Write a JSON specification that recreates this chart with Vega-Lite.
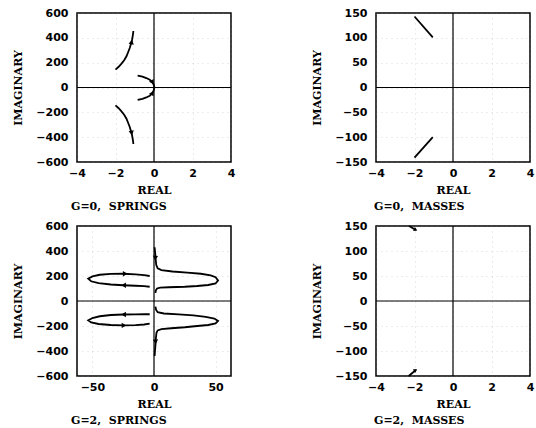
{
  "$schema": "https://vega.github.io/schema/vega-lite/v6.json",
  "padding": {"left": 12, "top": 6, "right": 0, "bottom": 0},
  "background": "white",
  "columns": 2,
  "spacing": {"row": 6, "column": 75},
  "datasets": {
    "zero": [{"v": 0}],
    "s0": [
      {"b": "A", "i": 0, "re": -2.0, "im": 144}, {"b": "A", "i": 1, "re": -1.85, "im": 165}, {"b": "A", "i": 2, "re": -1.7, "im": 190}, {"b": "A", "i": 3, "re": -1.55, "im": 220}, {"b": "A", "i": 4, "re": -1.43, "im": 251}, {"b": "A", "i": 5, "re": -1.33, "im": 290}, {"b": "A", "i": 6, "re": -1.26, "im": 318}, {"b": "A", "i": 7, "re": -1.19, "im": 355}, {"b": "A", "i": 8, "re": -1.14, "im": 385}, {"b": "A", "i": 9, "re": -1.1, "im": 420}, {"b": "A", "i": 10, "re": -1.07, "im": 455},
      {"b": "B", "i": 0, "re": -2.0, "im": -144}, {"b": "B", "i": 1, "re": -1.85, "im": -165}, {"b": "B", "i": 2, "re": -1.7, "im": -190}, {"b": "B", "i": 3, "re": -1.55, "im": -220}, {"b": "B", "i": 4, "re": -1.43, "im": -251}, {"b": "B", "i": 5, "re": -1.33, "im": -290}, {"b": "B", "i": 6, "re": -1.26, "im": -318}, {"b": "B", "i": 7, "re": -1.19, "im": -355}, {"b": "B", "i": 8, "re": -1.14, "im": -385}, {"b": "B", "i": 9, "re": -1.1, "im": -420}, {"b": "B", "i": 10, "re": -1.07, "im": -455},
      {"b": "C", "i": 0, "re": -0.85, "im": 95}, {"b": "C", "i": 1, "re": -0.6, "im": 87}, {"b": "C", "i": 2, "re": -0.4, "im": 76}, {"b": "C", "i": 3, "re": -0.22, "im": 62}, {"b": "C", "i": 4, "re": -0.1, "im": 45}, {"b": "C", "i": 5, "re": -0.02, "im": 24}, {"b": "C", "i": 6, "re": 0.02, "im": 2},
      {"b": "D", "i": 0, "re": -0.85, "im": -100}, {"b": "D", "i": 1, "re": -0.6, "im": -91}, {"b": "D", "i": 2, "re": -0.4, "im": -80}, {"b": "D", "i": 3, "re": -0.22, "im": -66}, {"b": "D", "i": 4, "re": -0.1, "im": -48}, {"b": "D", "i": 5, "re": -0.02, "im": -26}, {"b": "D", "i": 6, "re": 0.02, "im": -2}
    ],
    "a0": [
      {"re": -1.17, "im": 360, "dir": 10}, {"re": -1.17, "im": -360, "dir": 170},
      {"re": -0.1, "im": 47, "dir": 150}, {"re": -0.1, "im": -50, "dir": 30}
    ],
    "m0": [
      {"b": "E", "i": 0, "re": -2.0, "im": 143}, {"b": "E", "i": 1, "re": -1.05, "im": 101},
      {"b": "F", "i": 0, "re": -2.0, "im": -141}, {"b": "F", "i": 1, "re": -1.05, "im": -100}
    ],
    "s2": [
      {"b": "UL", "i": 0, "re": -3.5, "im": 200}, {"b": "UL", "i": 1, "re": -8, "im": 207}, {"b": "UL", "i": 2, "re": -15, "im": 213}, {"b": "UL", "i": 3, "re": -25, "im": 218}, {"b": "UL", "i": 4, "re": -35, "im": 217}, {"b": "UL", "i": 5, "re": -44, "im": 210}, {"b": "UL", "i": 6, "re": -50, "im": 197}, {"b": "UL", "i": 7, "re": -53.4, "im": 178}, {"b": "UL", "i": 8, "re": -51, "im": 158}, {"b": "UL", "i": 9, "re": -45, "im": 143}, {"b": "UL", "i": 10, "re": -35, "im": 132}, {"b": "UL", "i": 11, "re": -25, "im": 126}, {"b": "UL", "i": 12, "re": -15, "im": 122}, {"b": "UL", "i": 13, "re": -8, "im": 119}, {"b": "UL", "i": 14, "re": -3.5, "im": 114},
      {"b": "LL", "i": 0, "re": -3.5, "im": -106}, {"b": "LL", "i": 1, "re": -8, "im": -106}, {"b": "LL", "i": 2, "re": -15, "im": -107}, {"b": "LL", "i": 3, "re": -25, "im": -108}, {"b": "LL", "i": 4, "re": -35, "im": -112}, {"b": "LL", "i": 5, "re": -44, "im": -122}, {"b": "LL", "i": 6, "re": -50, "im": -136}, {"b": "LL", "i": 7, "re": -53.4, "im": -155}, {"b": "LL", "i": 8, "re": -51, "im": -172}, {"b": "LL", "i": 9, "re": -45, "im": -184}, {"b": "LL", "i": 10, "re": -35, "im": -192}, {"b": "LL", "i": 11, "re": -25, "im": -195}, {"b": "LL", "i": 12, "re": -15, "im": -193}, {"b": "LL", "i": 13, "re": -8, "im": -188}, {"b": "LL", "i": 14, "re": -3.5, "im": -181},
      {"b": "UR", "i": 0, "re": 0.5, "im": 430}, {"b": "UR", "i": 1, "re": 1.0, "im": 380}, {"b": "UR", "i": 2, "re": 1.4, "im": 330}, {"b": "UR", "i": 3, "re": 1.8, "im": 290}, {"b": "UR", "i": 4, "re": 3, "im": 262}, {"b": "UR", "i": 5, "re": 6, "im": 247}, {"b": "UR", "i": 6, "re": 15, "im": 236}, {"b": "UR", "i": 7, "re": 27, "im": 227}, {"b": "UR", "i": 8, "re": 38, "im": 218}, {"b": "UR", "i": 9, "re": 46, "im": 205}, {"b": "UR", "i": 10, "re": 50, "im": 190}, {"b": "UR", "i": 11, "re": 52, "im": 165}, {"b": "UR", "i": 12, "re": 50, "im": 140}, {"b": "UR", "i": 13, "re": 44, "im": 128}, {"b": "UR", "i": 14, "re": 35, "im": 120}, {"b": "UR", "i": 15, "re": 25, "im": 114}, {"b": "UR", "i": 16, "re": 12, "im": 110}, {"b": "UR", "i": 17, "re": 5, "im": 107}, {"b": "UR", "i": 18, "re": 2.5, "im": 100}, {"b": "UR", "i": 19, "re": 1.5, "im": 85}, {"b": "UR", "i": 20, "re": 1.2, "im": 65},
      {"b": "LR", "i": 0, "re": 1.2, "im": -45}, {"b": "LR", "i": 1, "re": 1.6, "im": -70}, {"b": "LR", "i": 2, "re": 3, "im": -90}, {"b": "LR", "i": 3, "re": 8, "im": -100}, {"b": "LR", "i": 4, "re": 20, "im": -107}, {"b": "LR", "i": 5, "re": 32, "im": -115}, {"b": "LR", "i": 6, "re": 42, "im": -127}, {"b": "LR", "i": 7, "re": 49, "im": -140}, {"b": "LR", "i": 8, "re": 52, "im": -160}, {"b": "LR", "i": 9, "re": 50, "im": -180}, {"b": "LR", "i": 10, "re": 44, "im": -192}, {"b": "LR", "i": 11, "re": 35, "im": -200}, {"b": "LR", "i": 12, "re": 25, "im": -210}, {"b": "LR", "i": 13, "re": 14, "im": -218}, {"b": "LR", "i": 14, "re": 6, "im": -225}, {"b": "LR", "i": 15, "re": 3, "im": -235}, {"b": "LR", "i": 16, "re": 2, "im": -255}, {"b": "LR", "i": 17, "re": 1.5, "im": -300}, {"b": "LR", "i": 18, "re": 1.2, "im": -350}, {"b": "LR", "i": 19, "re": 0.8, "im": -400}, {"b": "LR", "i": 20, "re": 0.5, "im": -440}
    ],
    "a2": [
      {"re": -24, "im": 218, "dir": 90}, {"re": -24, "im": 126, "dir": 270},
      {"re": -24, "im": -108, "dir": 270}, {"re": -25, "im": -195, "dir": 90},
      {"re": 1.1, "im": 350, "dir": 185}, {"re": 1.3, "im": -320, "dir": 175}
    ],
    "m2": [
      {"b": "G", "i": 0, "re": -2.28, "im": 150}, {"b": "G", "i": 1, "re": -1.93, "im": 142},
      {"b": "H", "i": 0, "re": -2.3, "im": -150}, {"b": "H", "i": 1, "re": -1.93, "im": -138}
    ],
    "am2": [
      {"re": -1.97, "im": 143, "dir": 115}, {"re": -1.97, "im": -139, "dir": 60}
    ]
  },
  "concat": [
    {
      "width": 154, "height": 149,
      "title": {"text": "G=0,\u00a0 SPRINGS", "dx": -6},
      "layer": [
        {
          "data": {"name": "s0"},
          "mark": {"type": "line", "color": "black", "strokeWidth": 1.8},
          "encoding": {
            "x": {"field": "re", "type": "quantitative", "scale": {"domain": [-4, 4], "nice": false}, "axis": {"title": "REAL", "tickCount": 5}},
            "y": {"field": "im", "type": "quantitative", "scale": {"domain": [-600, 600], "nice": false}, "axis": {"title": "IMAGINARY", "tickCount": 7}},
            "detail": {"field": "b"},
            "order": {"field": "i"}
          }
        },
        {"data": {"name": "zero"}, "mark": {"type": "rule", "color": "black", "strokeWidth": 1.2}, "encoding": {"x": {"field": "v", "type": "quantitative"}}},
        {"data": {"name": "zero"}, "mark": {"type": "rule", "color": "black", "strokeWidth": 1.2}, "encoding": {"y": {"field": "v", "type": "quantitative"}}},
        {
          "data": {"name": "a0"},
          "mark": {"type": "point", "shape": "triangle", "filled": true, "color": "black", "size": 28, "opacity": 1},
          "encoding": {
            "x": {"field": "re", "type": "quantitative"},
            "y": {"field": "im", "type": "quantitative"},
            "angle": {"field": "dir", "type": "quantitative", "scale": null}
          }
        }
      ]
    },
    {
      "width": 154, "height": 149,
      "title": {"text": "G=0,\u00a0 MASSES", "dx": -2},
      "layer": [
        {
          "data": {"name": "m0"},
          "mark": {"type": "line", "color": "black", "strokeWidth": 1.8},
          "encoding": {
            "x": {"field": "re", "type": "quantitative", "scale": {"domain": [-4, 4], "nice": false}, "axis": {"title": "REAL", "tickCount": 5}},
            "y": {"field": "im", "type": "quantitative", "scale": {"domain": [-150, 150], "nice": false}, "axis": {"title": "IMAGINARY", "tickCount": 7}},
            "detail": {"field": "b"},
            "order": {"field": "i"}
          }
        },
        {"data": {"name": "zero"}, "mark": {"type": "rule", "color": "black", "strokeWidth": 1.2}, "encoding": {"x": {"field": "v", "type": "quantitative"}}},
        {"data": {"name": "zero"}, "mark": {"type": "rule", "color": "black", "strokeWidth": 1.2}, "encoding": {"y": {"field": "v", "type": "quantitative"}}}
      ]
    },
    {
      "width": 154, "height": 150,
      "title": {"text": "G=2,\u00a0 SPRINGS", "dx": -6},
      "layer": [
        {
          "data": {"name": "s2"},
          "mark": {"type": "line", "color": "black", "strokeWidth": 1.8},
          "encoding": {
            "x": {"field": "re", "type": "quantitative", "scale": {"domain": [-62.5, 62.5], "nice": false}, "axis": {"title": "REAL", "tickCount": 3}},
            "y": {"field": "im", "type": "quantitative", "scale": {"domain": [-600, 600], "nice": false}, "axis": {"title": "IMAGINARY", "tickCount": 7}},
            "detail": {"field": "b"},
            "order": {"field": "i"}
          }
        },
        {"data": {"name": "zero"}, "mark": {"type": "rule", "color": "black", "strokeWidth": 1.2}, "encoding": {"x": {"field": "v", "type": "quantitative"}}},
        {"data": {"name": "zero"}, "mark": {"type": "rule", "color": "black", "strokeWidth": 1.2}, "encoding": {"y": {"field": "v", "type": "quantitative"}}},
        {
          "data": {"name": "a2"},
          "mark": {"type": "point", "shape": "triangle", "filled": true, "color": "black", "size": 28, "opacity": 1},
          "encoding": {
            "x": {"field": "re", "type": "quantitative"},
            "y": {"field": "im", "type": "quantitative"},
            "angle": {"field": "dir", "type": "quantitative", "scale": null}
          }
        }
      ]
    },
    {
      "width": 154, "height": 150,
      "title": {"text": "G=2,\u00a0 MASSES", "dx": -2},
      "layer": [
        {
          "data": {"name": "m2"},
          "mark": {"type": "line", "color": "black", "strokeWidth": 1.8},
          "encoding": {
            "x": {"field": "re", "type": "quantitative", "scale": {"domain": [-4, 4], "nice": false}, "axis": {"title": "REAL", "tickCount": 5}},
            "y": {"field": "im", "type": "quantitative", "scale": {"domain": [-150, 150], "nice": false}, "axis": {"title": "IMAGINARY", "tickCount": 7}},
            "detail": {"field": "b"},
            "order": {"field": "i"}
          }
        },
        {"data": {"name": "zero"}, "mark": {"type": "rule", "color": "black", "strokeWidth": 1.2}, "encoding": {"x": {"field": "v", "type": "quantitative"}}},
        {"data": {"name": "zero"}, "mark": {"type": "rule", "color": "black", "strokeWidth": 1.2}, "encoding": {"y": {"field": "v", "type": "quantitative"}}},
        {
          "data": {"name": "am2"},
          "mark": {"type": "point", "shape": "triangle", "filled": true, "color": "black", "size": 18, "opacity": 1},
          "encoding": {
            "x": {"field": "re", "type": "quantitative"},
            "y": {"field": "im", "type": "quantitative"},
            "angle": {"field": "dir", "type": "quantitative", "scale": null}
          }
        }
      ]
    }
  ],
  "config": {
    "view": {"stroke": "black", "strokeWidth": 1.5},
    "axis": {
      "labelFont": "DejaVu Sans", "labelFontWeight": "bold", "labelFontSize": 11, "labelColor": "black",
      "titleFont": "DejaVu Serif", "titleFontWeight": "bold", "titleFontSize": 11, "titleColor": "black",
      "domain": false, "ticks": false, "labelFlush": false, "labelOverlap": false, "labelSeparation": 0,
      "grid": true, "gridColor": "#888888", "gridDash": [1, 4], "gridOpacity": 0.4, "gridWidth": 0.8
    },
    "axisX": {"labelPadding": 5, "titlePadding": 6},
    "axisY": {"labelPadding": 9, "titlePadding": 12},
    "title": {"font": "DejaVu Serif", "fontWeight": "bold", "fontSize": 11, "color": "black", "orient": "bottom", "anchor": "start", "frame": "group", "offset": 6}
  }
}
